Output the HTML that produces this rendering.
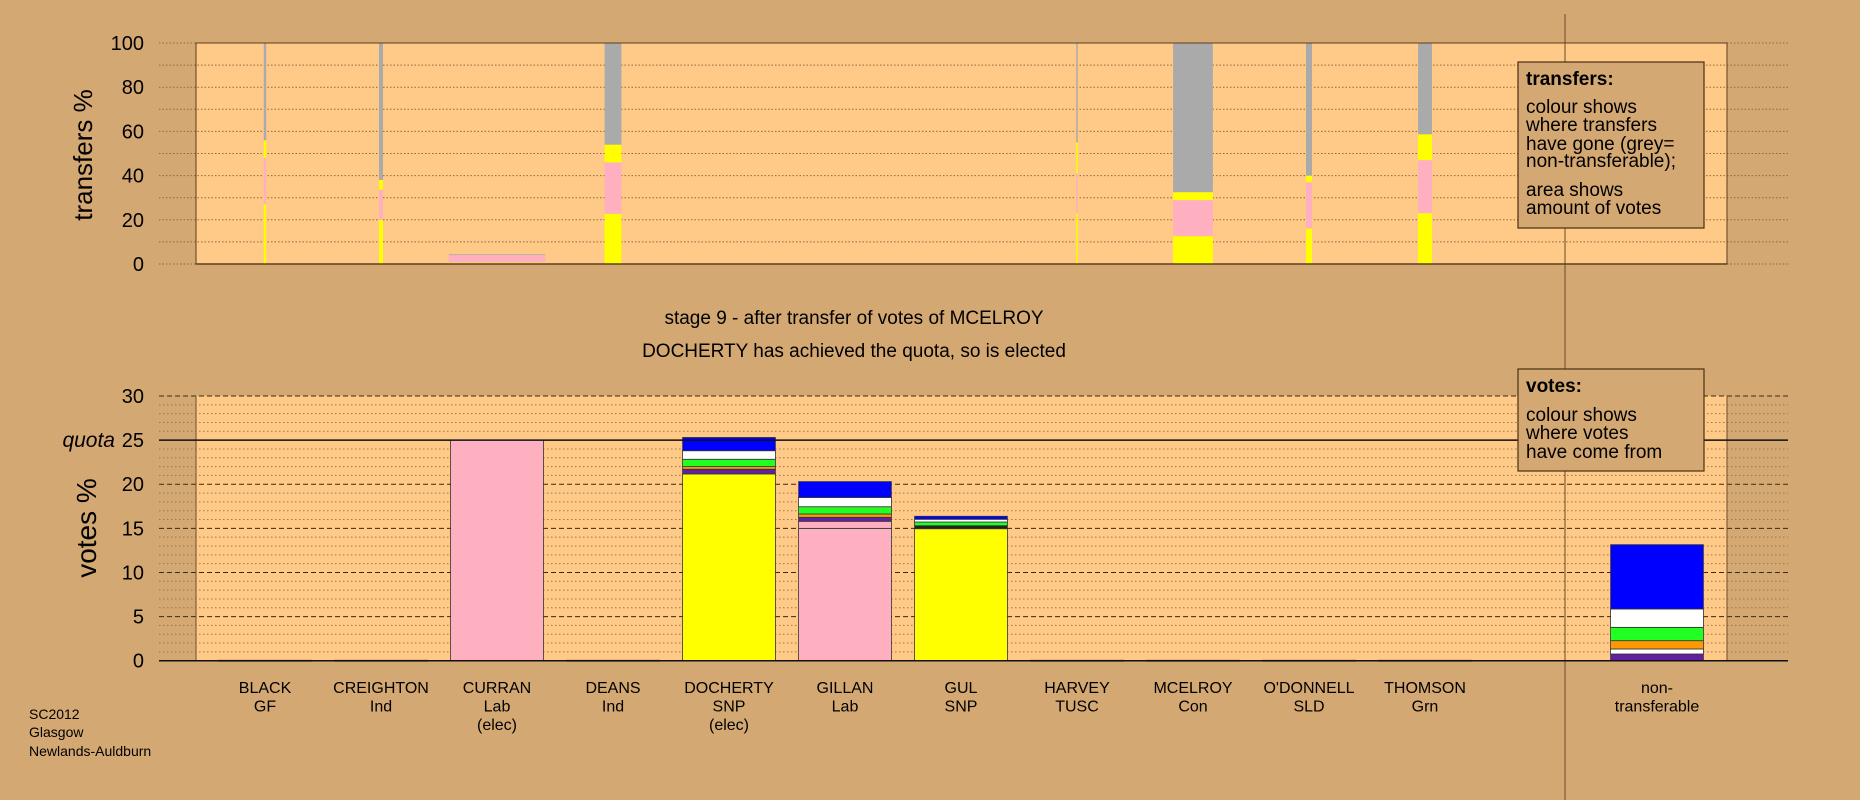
<!DOCTYPE html>
<html><head><meta charset="utf-8"><style>
html,body{margin:0;padding:0;background:#D4A873;}
svg{display:block;font-family:"Liberation Sans",sans-serif;}
</style></head><body>
<svg id="chart" width="1860" height="800" viewBox="0 0 1860 800" xmlns="http://www.w3.org/2000/svg">
<rect x="0" y="0" width="1860" height="800" fill="#D4A873"/>
<rect x="196" y="43" width="1531" height="221" fill="#FFC987"/>
<rect x="196" y="396" width="1531" height="265" fill="#FFC987"/>
<g id="topGrid"></g><g id="botGrid"></g>
<g id="topBars"></g><g id="botBars"></g>
<line x1="1565" y1="14" x2="1565" y2="800" stroke="#6b4a2a" stroke-width="1"/>
<g id="axes"></g>
<text x="854" y="324" font-size="19" text-anchor="middle">stage 9 - after transfer of votes of MCELROY</text>
<text x="854" y="357" font-size="19" text-anchor="middle">DOCHERTY has achieved the quota, so is elected</text>
<text transform="translate(92,155) rotate(-90)" font-size="26" text-anchor="middle">transfers %</text>
<text transform="translate(96,528) rotate(-90)" font-size="28" text-anchor="middle">votes %</text>
<text x="115" y="447" font-size="21" font-style="italic" text-anchor="end">quota</text>
<g font-size="14">
<text x="29" y="719">SC2012</text><text x="29" y="737">Glasgow</text><text x="29" y="756">Newlands-Auldburn</text></g>
<g>
<rect x="1518" y="62" width="186" height="166" fill="#D4A873" stroke="#4a3010" stroke-width="1.2"/>
<g font-size="19"><text x="1526" y="85" font-weight="bold">transfers:</text>
<text x="1526" y="113">colour shows</text><text x="1526" y="131">where transfers</text><text x="1526" y="150">have gone (grey=</text><text x="1526" y="167">non-transferable);</text>
<text x="1526" y="196">area shows</text><text x="1526" y="214">amount of votes</text></g></g>
<g>
<rect x="1518" y="369" width="186" height="102" fill="#D4A873" stroke="#4a3010" stroke-width="1.2"/>
<g font-size="19"><text x="1526" y="392" font-weight="bold">votes:</text>
<text x="1526" y="421">colour shows</text><text x="1526" y="439">where votes</text><text x="1526" y="458">have come from</text></g></g>
<g id="catLabels" font-size="16" text-anchor="middle"></g>
</svg>
<script>
const categories=["BLACK","CREIGHTON","CURRAN","DEANS","DOCHERTY","GILLAN","GUL","HARVEY","MCELROY","O'DONNELL","THOMSON","","non-transferable"];
const parties=["GF","Ind","Lab","Ind","SNP","Lab","SNP","TUSC","Con","SLD","Grn","",""];
const elected=[false,false,true,false,true,false,false,false,false,false,false,false,false];
const topTicks=[0,20,40,60,80,100];
const botTicks=[0,5,10,15,20,25,30];
const quota=25;
// transfers: amount of votes (width) and stacked % segments: [colour, percent]
const transferAmount=[2.5,4,97,17,0,0,0,1.5,40,6,14,0,0];
const transferSegs=[
 [["y",27],["p",21],["y",8],["g",44]],
 [["y",20],["p",13.6],["y",4.4],["g",62]],
 [["y",0.6],["p",3.4],["g",0.4]],
 [["y",22.7],["p",23.3],["y",8],["g",46]],
 [],[],[],
 [["y",23],["p",18],["y",14],["g",45]],
 [["y",12.6],["p",16.3],["y",3.6],["g",67.5]],
 [["y",16],["p",21],["y",3],["g",60]],
 [["y",23],["p",24],["y",11.7],["g",41.3]],
 [],[]];
// votes % stacks bottom-to-top: [colour, value]
const voteSegs=[
 [["k",0.05]],[["k",0.05]],
 [["p",25]],
 [["k",0.05]],
 [["y",21.17],["u",0.53],["o",0.3],["G",0.83],["w",0.97],["b",1.5]],
 [["p",15.0],["p",0.8],["u",0.45],["o",0.38],["G",0.82],["w",1.05],["b",1.8]],
 [["y",14.96],["k",0.34],["G",0.42],["w",0.31],["b",0.34]],
 [["k",0.05]],[["k",0.05]],[["k",0.05]],[["k",0.05]],[],
 [["u",0.76],["w",0.57],["o",0.94],["G",1.51],["w",2.08],["b",7.29]]];
const COL={y:"#FFFF00",p:"#FFB0C0",g:"#AAAAAA",b:"#0000FF",w:"#FFFFFF",G:"#22FF22",o:"#FF9900",u:"#6020A0",k:"#222222"};
const NS="http://www.w3.org/2000/svg";
function mk(tag,attrs,parent){const e=document.createElementNS(NS,tag);for(const k in attrs)e.setAttribute(k,attrs[k]);parent.appendChild(e);return e;}
const xC=i=>265+i*116;
const yT=v=>264-v*2.21;
const yB=v=>660.7-v*8.823;
const barW=92.8;
const gL=159,gR=1788;
const tg=document.getElementById('topGrid'),bg=document.getElementById('botGrid'),ax=document.getElementById('axes');
for(let v=0;v<=100;v+=10){const l=mk('line',{x1:gL,x2:gR,y1:yT(v),y2:yT(v),stroke:"#8a6a40","stroke-width":1,"stroke-dasharray":"1.5,2"},tg);

}
for(let v=0;v<=30;v++){if(v%5===0)continue;const l=mk('line',{x1:gL,x2:gR,y1:yB(v),y2:yB(v),stroke:"#9a7a50","stroke-width":1,"stroke-dasharray":"1.5,2.5"},bg);

}
botTicks.forEach(v=>{const l=mk('line',{x1:gL,x2:gR,y1:yB(v),y2:yB(v),stroke:"#3a2a10","stroke-width":1,"stroke-dasharray":"5,3"},bg);

});
// panel borders
const pb=mk('rect',{x:196,y:43,width:1531,height:221,fill:"none",stroke:"#5a4020","stroke-width":1},ax);


[196,1727].forEach(x=>{const l=mk('line',{x1:x,x2:x,y1:396,y2:661,stroke:"#6a5030","stroke-width":1},ax);

});
const ql=mk('line',{x1:gL,x2:gR,y1:yB(quota),y2:yB(quota),stroke:"#111","stroke-width":1.5},ax);


const zl=mk('line',{x1:gL,x2:gR,y1:yB(0),y2:yB(0),stroke:"#111","stroke-width":1.5},ax);


const tzl=mk('line',{x1:196,x2:1727,y1:yT(0),y2:yT(0),stroke:"#5a4020","stroke-width":1.5},ax);


topTicks.forEach(v=>{const t=mk('text',{x:144,y:yT(v)+7,"font-size":20,"text-anchor":"end"},ax);t.textContent=v;

});
botTicks.forEach(v=>{const t=mk('text',{x:144,y:yB(v)+7,"font-size":20,"text-anchor":"end"},ax);t.textContent=v;

});
// transfer bars
const tb=document.getElementById('topBars');
transferSegs.forEach((segs,i)=>{const w=transferAmount[i]*barW/97*1.04;let acc=0;
 segs.forEach(([c,v])=>{const r=mk('rect',{x:xC(i)-w/2,y:yT(acc+v),width:w,height:v*2.21,fill:COL[c]},tb);
 
 acc+=v;});});
// vote bars
const bb=document.getElementById('botBars');
voteSegs.forEach((segs,i)=>{let acc=0;
 segs.forEach(([c,v])=>{const r=mk('rect',{x:xC(i)-barW/2,y:yB(acc+v),width:barW,height:Math.max(v*8.823,1),fill:COL[c],stroke:"#333","stroke-width":0.8},bb);
 
 acc+=v;});});
// category labels
const cl=document.getElementById('catLabels');
categories.forEach((c,i)=>{if(!c)return;
 const lines=c==="non-transferable"?["non-","transferable"]:[c,parties[i]].concat(elected[i]?["(elec)"]:[]);
 const t=mk('text',{x:xC(i),y:693},cl);
 
 
 lines.forEach((s,k)=>{const ts=mk('tspan',{x:xC(i),dy:k?18.5:0},t);ts.textContent=s;});});
</script>
</body></html>
